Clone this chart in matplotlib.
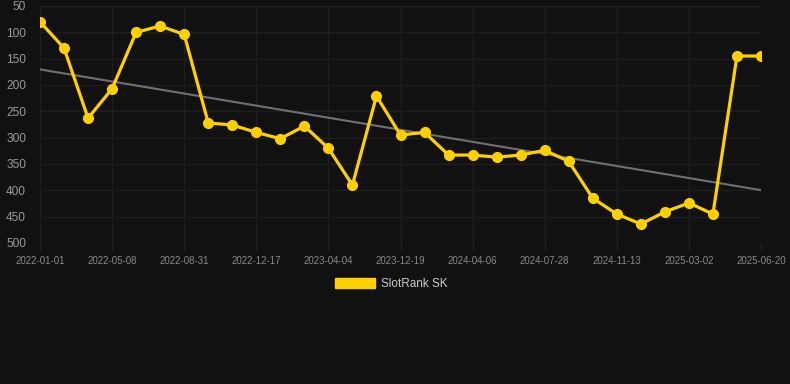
import matplotlib.pyplot as plt
from matplotlib.patches import Patch
import numpy as np

# rank per sample
ranks = [80, 130, 263, 207, 100, 88, 104, 272, 276, 290,
         302, 278, 320, 390, 221, 295, 290, 333, 333, 337,
         333, 324, 345, 415, 445, 464, 441, 424, 445, 145, 145]
tick_labels = ["2022-01-01", "2022-05-08", "2022-08-31", "2022-12-17", "2023-04-04",
               "2023-12-19", "2024-04-06", "2024-07-28", "2024-11-13", "2025-03-02",
               "2025-06-20"]
series_name = "SlotRank SK"

bg = '#111111'
grid_col = '#1e1e1e'
txt = '#8a8a8a'
gold = '#FFD000'

x = np.arange(len(ranks))

fig = plt.figure(figsize=(7.9, 3.84), dpi=100, facecolor=bg)
ax = fig.add_axes([40/790, 1-243/384, 721/790, 237/384])
ax.set_facecolor(bg)

# trend line (least squares)
k, b = np.polyfit(x, ranks, 1)
ax.plot(x, k*x + b, color='#707070', lw=1.5, zorder=2)

ax.plot(x, ranks, color=gold, lw=2.3, marker='o', ms=7, zorder=3)

ax.set_xlim(0, len(ranks)-1)
ax.set_ylim(500, 50)
ax.set_yticks(np.arange(50, 501, 50))
ax.set_xticks(x[::3])
ax.set_xticklabels(tick_labels)

ax.grid(True, color=grid_col, lw=1)
ax.set_axisbelow(True)
for s in ax.spines.values():
    s.set_visible(False)
ax.axhline(500, color='#2a2a2a', lw=1, zorder=1)
ax.tick_params(axis='x', colors='#262626', length=5, pad=4)
ax.tick_params(axis='y', length=0, pad=10)
for t in ax.get_xticklabels():
    t.set_color(txt)
    t.set_fontsize(7)
    t.set_fontfamily('Liberation Sans')
for t in ax.get_yticklabels():
    t.set_color('#999999')
    t.set_fontsize(8.6)
    t.set_fontfamily('Liberation Sans')

fig.legend(handles=[Patch(color=gold, label=series_name)], loc='center',
           bbox_to_anchor=(391/790, 1-284/384), frameon=False,
           prop={'family': 'Liberation Sans', 'size': 8.5}, labelcolor='#cccccc',
           handlelength=3.4, handleheight=0.95, handletextpad=0.5)

fig.savefig('out.png', dpi=100, facecolor=bg)
